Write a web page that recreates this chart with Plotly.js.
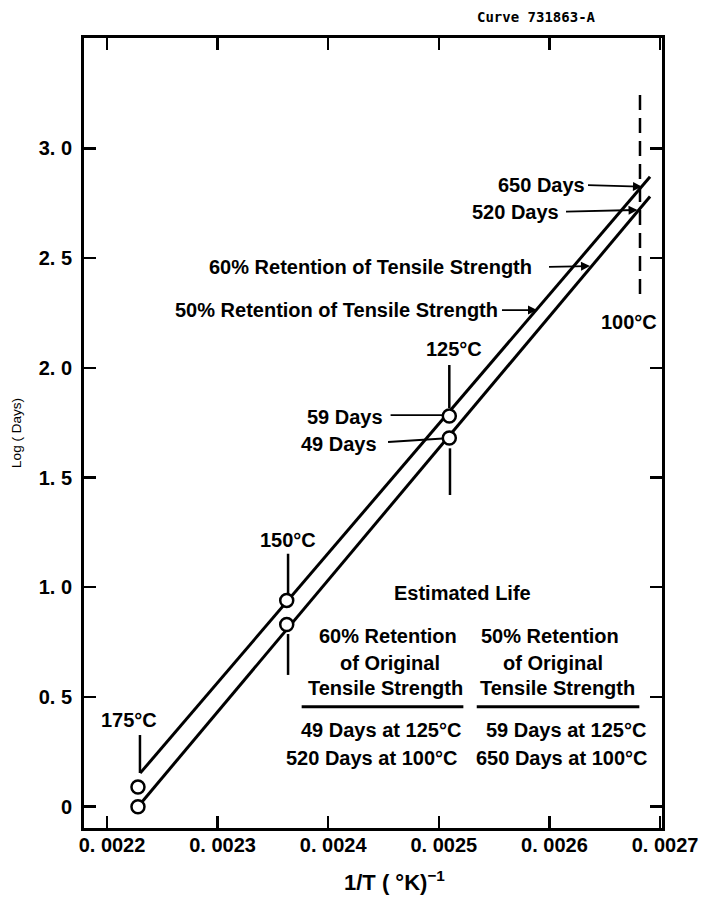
<!DOCTYPE html>
<html><head><meta charset="utf-8">
<script src="https://cdn.plot.ly/plotly-3.0.1.min.js"></script>
<style>html,body{margin:0;padding:0;background:#fff}</style>
</head><body><div id="chart" style="width:704px;height:898px"></div>
<script>
// ---- Data ----
const tempLabels = ['175°C', '150°C', '125°C'];
const invT = [0.002228, 0.0023625, 0.0025095];        // 1/T (K^-1) of the test points
const logDays60 = [0.00, 0.83, 1.68];                 // 60% retention of tensile strength
const logDays50 = [0.09, 0.94, 1.78];                 // 50% retention of tensile strength
const fitInvT60 = [0.002228, 0.002691];               // extrapolated 60% line
const fitLog60 = [0.00, 2.78];
const fitInvT50 = [0.00223, 0.002691];                // extrapolated 50% line
const fitLog50 = [0.153, 2.87];
const xTickVals = [0.0022, 0.0023, 0.0024, 0.0025, 0.0026, 0.0027];
const xTickText = ['0. 0022', '0. 0023', '0. 0024', '0. 0025', '0. 0026', '0. 0027'];
const yTickVals = [0, 0.5, 1, 1.5, 2, 2.5, 3];
const yTickText = ['0', '0. 5', '1. 0', '1. 5', '2. 0', '2. 5', '3. 0'];

// ---- Styling ----
const FAM = 'Liberation Sans, Arial, sans-serif';
const F = (size, weight) => ({family: FAM, size: size, color: '#000', weight: weight || 'bold'});

const lineStyle = {color: '#000', width: 3};
const markerStyle = {symbol: 'circle', size: 13, color: '#fff', line: {color: '#000', width: 2.5}};

const traces = [
  {x: fitInvT60, y: fitLog60, mode: 'lines', line: lineStyle, hoverinfo: 'skip', name: '60% fit'},
  {x: fitInvT50, y: fitLog50, mode: 'lines', line: lineStyle, hoverinfo: 'skip', name: '50% fit'},
  {x: invT, y: logDays60, mode: 'markers', marker: markerStyle, text: tempLabels, name: '60% Retention'},
  {x: invT, y: logDays50, mode: 'markers', marker: markerStyle, text: tempLabels, name: '50% Retention'}
];

function txt(text, x, y, extra) {
  return Object.assign({text: text, x: x, y: y, xref: 'x', yref: 'y', showarrow: false,
    xanchor: 'center', yanchor: 'middle', font: F(20)}, extra || {});
}
// text placed at the arrow tail (right-anchored), arrow pointing to (hx, hy)
function arrowTxt(text, tx, ty, hx, hy, gap) {
  return {text: text, x: hx, y: hy, ax: tx, ay: ty, xref: 'x', yref: 'y', axref: 'x', ayref: 'y',
    xanchor: 'right', yanchor: 'middle', font: F(20),
    showarrow: true, arrowhead: 2, arrowsize: 1, arrowwidth: 1.8, arrowcolor: '#000',
    standoff: 0, startstandoff: gap};
}

const annotations = [
  {text: 'Curve 731863-A', xref: 'paper', yref: 'paper', x: 0.783, y: 1.027, showarrow: false,
   xanchor: 'center', yanchor: 'middle', font: {family: 'DejaVu Sans Mono, monospace', size: 14, color: '#000', weight: 'bold'}},
  {text: '1/T ( °K)<sup>−1</sup>', xref: 'paper', yref: 'paper', x: 0.4457, y: -0.0675, showarrow: false,
   xanchor: 'left', yanchor: 'middle', font: F(22)},
  txt('175°C', 0.0022199, 0.395),
  txt('150°C', 0.0023637, 1.215),
  txt('125°C', 0.0025137, 2.0855),
  txt('100°C', 0.0026720, 2.2085),
  arrowTxt('650 Days', 0.0026340, 2.8327, 0.0026837, 2.825, 1),
  arrowTxt('520 Days', 0.0026105, 2.711, 0.0026797, 2.719, 5),
  arrowTxt('60% Retention of Tensile Strength', 0.0025861, 2.458, 0.0026367, 2.4637, 15),
  arrowTxt('50% Retention of Tensile Strength', 0.0025553, 2.263, 0.0025888, 2.263, 2),
  txt('59 Days', 0.0024514, 1.777, {xanchor: 'right'}),
  txt('49 Days', 0.0024463, 1.6526, {xanchor: 'right'}),
  txt('Estimated Life', 0.0025216, 0.9723),
  txt('60% Retention', 0.0024543, 0.7778),
  txt('of Original', 0.0024559, 0.6534),
  txt('Tensile Strength', 0.0024514, 0.5395),
  txt('50% Retention', 0.0026005, 0.7778),
  txt('of Original', 0.0026030, 0.6534),
  txt('Tensile Strength', 0.0026071, 0.5395),
  txt('49 Days at 125°C', 0.0025216, 0.3495, {xanchor: 'right'}),
  txt('520 Days at 100°C', 0.0025185, 0.2205, {xanchor: 'right'}),
  txt('59 Days at 125°C', 0.0026891, 0.3495, {xanchor: 'right'}),
  txt('650 Days at 100°C', 0.0026901, 0.2205, {xanchor: 'right'})
];

function seg(x0, y0, x1, y1, w, dash) {
  return {type: 'line', xref: 'x', yref: 'y', x0: x0, y0: y0, x1: x1, y1: y1,
    line: {color: '#000', width: w || 2.5, dash: dash || 'solid'}};
}
const shapes = [
  seg(0.0022298, 0.3266, 0.0022298, 0.1535),      // 175 stem
  seg(0.0023637, 1.1526, 0.0023637, 0.9645),      // 150 stem
  seg(0.0023637, 0.7868, 0.0023637, 0.6004),      // 150 lower stem
  seg(0.0025095, 2.0125, 0.0025095, 1.8166),      // 125 stem
  seg(0.0025101, 1.633, 0.0025101, 1.4202),       // 125 lower stem
  seg(0.0026819, 3.2428, 0.0026819, 2.3178, 2.5, '15px,8px'), // 100 C dashed
  seg(0.0024564, 1.7845, 0.0025029, 1.7845, 1.8), // 59 days leader
  seg(0.0024541, 1.6617, 0.0025038, 1.6777, 1.8), // 49 days leader
  seg(0.0023760, 0.4556, 0.0025222, 0.4556, 3),   // underline left
  seg(0.0025343, 0.4556, 0.0026813, 0.4556, 3)    // underline right
];

const layout = {
  width: 704, height: 898,
  margin: {l: 84, r: 42, t: 38, b: 70, pad: 0},
  paper_bgcolor: '#fff', plot_bgcolor: '#fff',
  showlegend: false,
  xaxis: {
    range: [0.0021792, 0.0027018], tickmode: 'array', tickvals: xTickVals, ticktext: xTickText,
    ticks: 'inside', ticklen: 12, tickwidth: 2.5, tickcolor: '#000',
    showline: true, linewidth: 3, linecolor: '#000', mirror: 'ticks',
    showgrid: false, zeroline: false, tickfont: F(20), ticklabelstandoff: -3, ticklabelshift: 5
  },
  yaxis: {
    range: [-0.097, 3.5025], tickmode: 'array', tickvals: yTickVals, ticktext: yTickText,
    ticks: 'inside', ticklen: 12, tickwidth: 2.5, tickcolor: '#000',
    showline: true, linewidth: 3, linecolor: '#000', mirror: 'ticks',
    showgrid: false, zeroline: false, tickfont: F(20), ticklabelstandoff: 5,
    title: {text: 'Log ( Days)', font: F(13.5, 'normal'), standoff: 14}
  },
  annotations: annotations,
  shapes: shapes
};

Plotly.newPlot('chart', traces, layout, {staticPlot: true, displayModeBar: false});
</script>
</body></html>
